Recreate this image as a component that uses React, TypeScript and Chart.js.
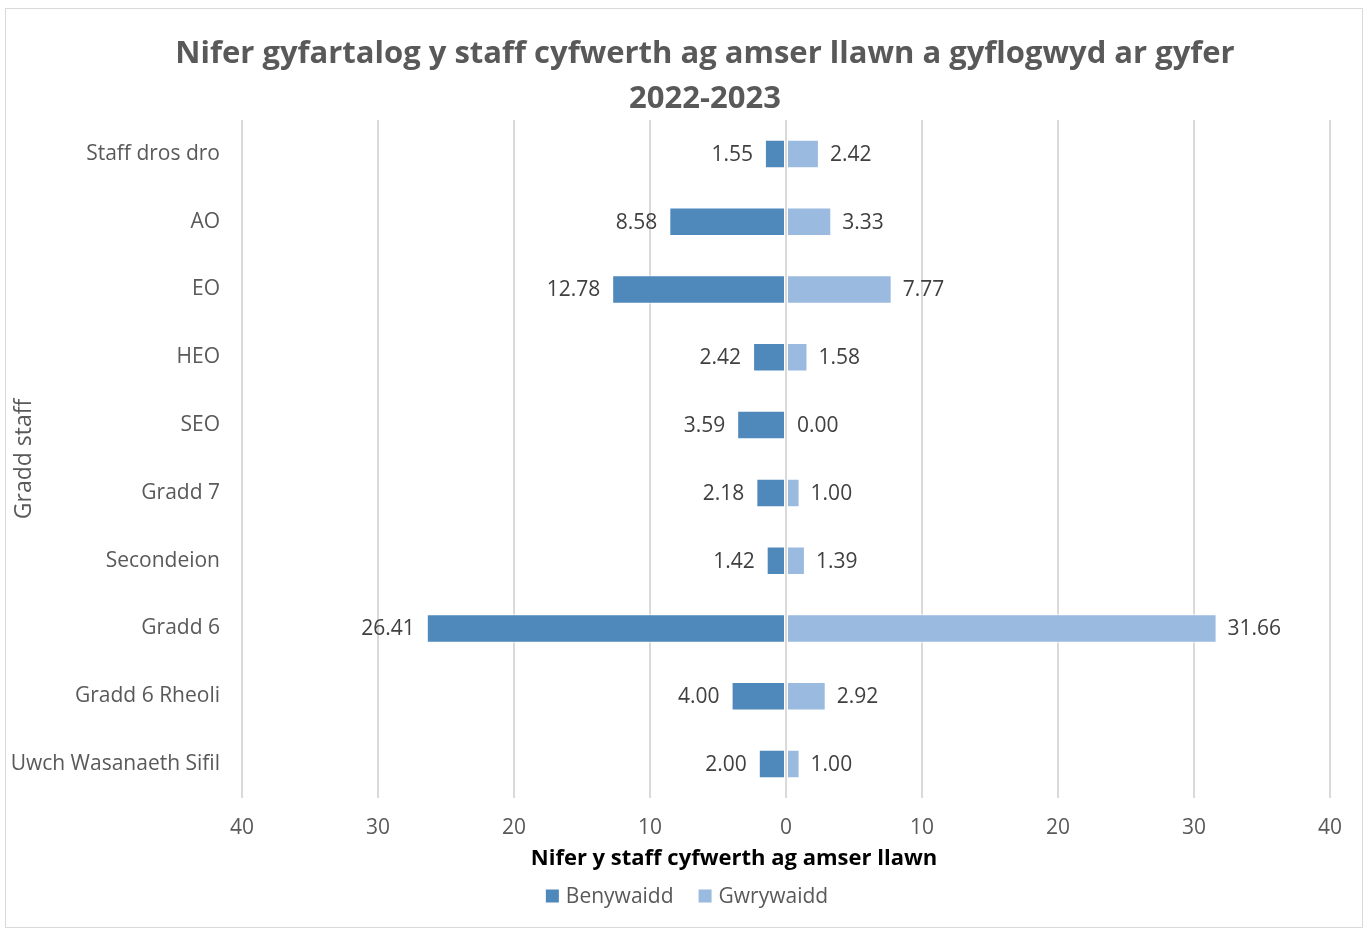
import React, { useEffect, useRef } from "react";
import { Chart, registerables } from "chart.js";

Chart.register(...registerables);

const categories = [
  "Staff dros dro",
  "AO",
  "EO",
  "HEO",
  "SEO",
  "Gradd 7",
  "Secondeion",
  "Gradd 6",
  "Gradd 6 Rheoli",
  "Uwch Wasanaeth Sifil",
];
const femaleValues = [1.55, 8.58, 12.78, 2.42, 3.59, 2.18, 1.42, 26.41, 4.0, 2.0];
const maleValues = [2.42, 3.33, 7.77, 1.58, 0.0, 1.0, 1.39, 31.66, 2.92, 1.0];
const seriesNames = ["Benywaidd", "Gwrywaidd"];
const seriesColors = ["#4f88bb", "#9abae0"];
const titleLines = [
  "Nifer gyfartalog y staff cyfwerth ag amser llawn a gyflogwyd ar gyfer",
  "2022-2023",
];
const xAxisTitle = "Nifer y staff cyfwerth ag amser llawn";
const yAxisTitle = "Gradd staff";

const FONT = "'Open Sans', sans-serif";
const CANVAS_W = 1356;
const CANVAS_H = 918;

const textPlugin = {
  id: "customText",
  afterDraw(chart: any) {
    const ctx = chart.ctx;
    ctx.save();
    // chart title
    ctx.font = `bold 31px ${FONT}`;
    ctx.fillStyle = "#595959";
    ctx.textAlign = "center";
    ctx.textBaseline = "middle";
    ctx.fillText(titleLines[0], 699, 45);
    ctx.fillText(titleLines[1], 699, 90);
    // x axis title
    ctx.font = `bold 22px ${FONT}`;
    ctx.fillStyle = "#000000";
    ctx.fillText(xAxisTitle, 728, 850);
    // legend
    ctx.font = `21px ${FONT}`;
    ctx.textAlign = "left";
    const box = 13;
    const gapBoxText = 7;
    const gapItems = 25;
    const names = chart.data.datasets.map((d: any) => d.label);
    const widths = names.map((n: string) => ctx.measureText(n).width);
    let total = 0;
    widths.forEach((w: number, i: number) => {
      total += box + gapBoxText + w + (i < widths.length - 1 ? gapItems : 0);
    });
    let x = 681 - total / 2;
    const cy = 887;
    names.forEach((n: string, i: number) => {
      ctx.fillStyle = chart.data.datasets[i].backgroundColor;
      ctx.fillRect(x, cy - box / 2, box, box);
      x += box + gapBoxText;
      ctx.fillStyle = "#595959";
      ctx.fillText(n, x, cy + 1);
      x += widths[i] + gapItems;
    });
    ctx.restore();
  },
};

const valueLabelPlugin = {
  id: "valueLabels",
  afterDatasetsDraw(chart: any) {
    const ctx = chart.ctx;
    const xs = chart.scales.x;
    ctx.save();
    ctx.font = `21px ${FONT}`;
    ctx.fillStyle = "#404040";
    ctx.textBaseline = "middle";
    chart.data.datasets.forEach((ds: any, di: number) => {
      const meta = chart.getDatasetMeta(di);
      meta.data.forEach((el: any, i: number) => {
        const raw = ds.data[i];
        const txt = Math.abs(raw).toFixed(2);
        const px = xs.getPixelForValue(raw);
        if (di === 0) {
          ctx.textAlign = "right";
          ctx.fillText(txt, px - 12, el.y + 1);
        } else {
          ctx.textAlign = "left";
          ctx.fillText(txt, px + 11, el.y + 1);
        }
      });
    });
    ctx.restore();
  },
};

export default function App() {
  const ref = useRef<HTMLCanvasElement | null>(null);

  useEffect(() => {
    document.body.style.margin = "0";
    document.body.style.overflow = "hidden";
    const canvas = ref.current;
    if (!canvas) return;
    const chart = new Chart(canvas, {
      type: "bar",
      data: {
        labels: categories,
        datasets: [
          {
            label: seriesNames[0],
            data: femaleValues.map((v) => -v),
            backgroundColor: seriesColors[0],
            borderColor: "#ffffff",
            borderWidth: 1,
            borderSkipped: false,
            stack: "s",
          },
          {
            label: seriesNames[1],
            data: maleValues,
            backgroundColor: seriesColors[1],
            borderColor: "#ffffff",
            borderWidth: 1,
            borderSkipped: false,
            stack: "s",
          },
        ],
      },
      plugins: [textPlugin, valueLabelPlugin],
      options: {
        indexAxis: "y",
        responsive: false,
        animation: false,
        devicePixelRatio: 1,
        layout: { padding: { top: 111, right: 32, left: 0, bottom: 65 } },
        datasets: {
          bar: { categoryPercentage: 0.42, barPercentage: 1 },
        },
        scales: {
          x: {
            type: "linear",
            min: -40,
            max: 40,
            stacked: true,
            afterFit(scale: any) {
              scale.height = 64;
            },
            grid: { color: "#d9d9d9", lineWidth: 2, drawTicks: false },
            border: { display: false },
            ticks: {
              stepSize: 10,
              padding: 17,
              color: "#595959",
              font: { family: FONT, size: 21 },
              callback: (v: any) => String(Math.abs(Number(v))),
            },
            title: { display: false },
          },
          y: {
            type: "category",
            stacked: true,
            afterFit(scale: any) {
              scale.width = 236;
            },
            grid: { display: false, drawTicks: false },
            border: { display: false },
            ticks: {
              padding: 22,
              color: "#595959",
              font: { family: FONT, size: 21 },
            },
            title: {
              display: true,
              text: yAxisTitle,
              color: "#595959",
              font: { family: FONT, size: 23 },
              padding: { top: 5, bottom: 0 },
            },
          },
        },
        plugins: {
          title: { display: false },
          tooltip: { enabled: false },
          legend: { display: false },
        },
      },
    } as any);
    return () => chart.destroy();
  }, []);

  return (
    <div
      style={{
        position: "absolute",
        left: 5,
        top: 8,
        width: CANVAS_W + 2,
        height: CANVAS_H + 2,
        border: "1px solid #d9d9d9",
        boxSizing: "border-box",
        background: "#ffffff",
      }}
    >
      <canvas
        ref={ref}
        width={CANVAS_W}
        height={CANVAS_H}
        style={{ display: "block", width: CANVAS_W, height: CANVAS_H }}
      />
    </div>
  );
}
